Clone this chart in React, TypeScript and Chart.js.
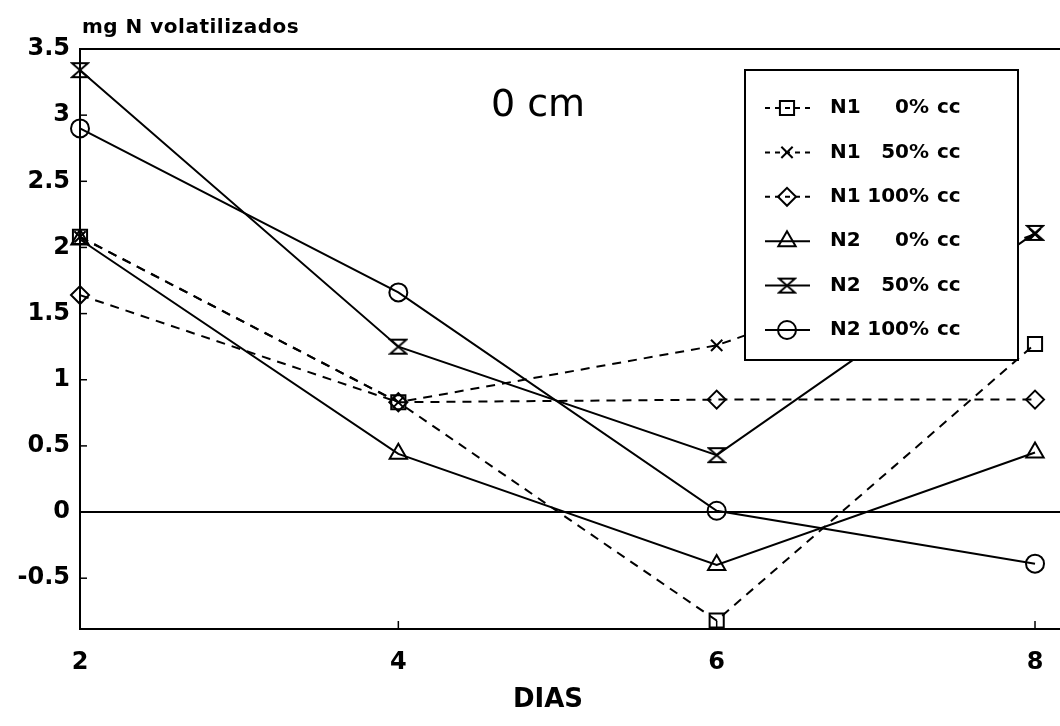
import React, { useEffect, useRef } from "react";
import { Chart, registerables } from "chart.js";
import { drawPoint } from "chart.js/helpers";

Chart.register(...registerables);

// ---- data ----
const days = [2, 4, 6, 8];
const n1_0 = [2.08, 0.83, -0.82, 1.27];
const n1_50 = [2.08, 0.83, 1.26, 2.1];
const n1_100 = [1.64, 0.83, 0.85, 0.85];
const n2_0 = [2.06, 0.44, -0.4, 0.45];
const n2_50 = [3.34, 1.25, 0.43, 2.11];
const n2_100 = [2.9, 1.66, 0.01, -0.39];
const seriesNames = ["N1 0% cc", "N1 50% cc", "N1 100% cc", "N2 0% cc", "N2 50% cc", "N2 100% cc"];
const xTicks = [2, 4, 6, 8];
const yTicks = [-0.5, 0, 0.5, 1, 1.5, 2, 2.5, 3, 3.5];
const yTitle = "mg N volatilizados";
const xTitle = "DIAS";
const chartTitle = "0 cm";

const FONT = '"DejaVu Sans", sans-serif';

function makeHourglass(): HTMLCanvasElement {
  const c = document.createElement("canvas");
  c.width = 20;
  c.height = 18;
  const g = c.getContext("2d")!;
  g.strokeStyle = "#000";
  g.lineWidth = 2;
  g.lineJoin = "miter";
  g.beginPath();
  g.moveTo(2, 2);
  g.lineTo(18, 2);
  g.lineTo(2, 16);
  g.lineTo(18, 16);
  g.closePath();
  g.stroke();
  return c;
}

export default function App() {
  const ref = useRef<HTMLCanvasElement | null>(null);

  useEffect(() => {
    const canvas = ref.current!;
    const hourglass = makeHourglass();
    const dash = [9, 7];
    const styles: any[] = [
      { pointStyle: "rect", pointRadius: 10, borderDash: dash },
      { pointStyle: "crossRot", pointRadius: 8, borderDash: dash },
      { pointStyle: "rectRot", pointRadius: 9, borderDash: dash },
      { pointStyle: "triangle", pointRadius: 10, borderDash: [] },
      { pointStyle: hourglass, pointRadius: 9, borderDash: [] },
      { pointStyle: "circle", pointRadius: 9, borderDash: [] },
    ];
    const allSeries = [n1_0, n1_50, n1_100, n2_0, n2_50, n2_100];

    const datasets = allSeries.map((arr, i) => ({
      label: seriesNames[i],
      data: days.map((d, j) => ({ x: d, y: arr[j] })),
      borderColor: "#000",
      borderWidth: 2,
      borderDash: styles[i].borderDash,
      pointStyle: styles[i].pointStyle,
      pointRadius: styles[i].pointRadius,
      pointBorderWidth: 2,
      pointBorderColor: "#000",
      pointBackgroundColor: "rgba(0,0,0,0)",
      fill: false,
      tension: 0,
      clip: false as any,
    }));

    const framePlugin = {
      id: "frame",
      beforeDatasetsDraw(chart: any) {
        const { ctx, chartArea } = chart;
        const xs = chart.scales.x;
        const ys = chart.scales.y;
        ctx.save();
        ctx.strokeStyle = "#000";
        ctx.lineWidth = 2;
        // top line
        ctx.beginPath();
        ctx.moveTo(chartArea.left, chartArea.top);
        ctx.lineTo(chartArea.right, chartArea.top);
        ctx.stroke();
        // inward y ticks
        ctx.lineWidth = 1.5;
        yTicks.forEach((v) => {
          const py = ys.getPixelForValue(v);
          ctx.beginPath();
          ctx.moveTo(chartArea.left, py);
          ctx.lineTo(chartArea.left + 7, py);
          ctx.stroke();
        });
        // inward x ticks
        xTicks.slice(1).forEach((v) => {
          const px = xs.getPixelForValue(v);
          ctx.beginPath();
          ctx.moveTo(px, chartArea.bottom);
          ctx.lineTo(px, chartArea.bottom - 8);
          ctx.stroke();
        });
        ctx.restore();
      },
      afterDraw(chart: any) {
        const { ctx, chartArea } = chart;
        ctx.save();
        ctx.fillStyle = "#000";
        // y title
        ctx.font = `bold 20px ${FONT}`;
        (ctx as any).letterSpacing = "0.5px";
        ctx.textAlign = "left";
        ctx.textBaseline = "alphabetic";
        ctx.fillText(yTitle, chartArea.left + 2, 33);
        (ctx as any).letterSpacing = "0px";
        // x title
        ctx.font = `bold 26px ${FONT}`;
        ctx.textAlign = "center";
        ctx.textBaseline = "middle";
        ctx.fillText(xTitle, 548, 700);
        // chart title
        ctx.font = `38px ${FONT}`;
        ctx.fillText(chartTitle, 538, 106);
        ctx.restore();
      },
    };

    const legendPlugin = {
      id: "boxLegend",
      afterDatasetsDraw(chart: any) {
        const { ctx } = chart;
        const bx = 745, by = 70, bw = 273, bh = 290;
        ctx.save();
        ctx.fillStyle = "#fff";
        ctx.fillRect(bx, by, bw, bh);
        ctx.strokeStyle = "#000";
        ctx.lineWidth = 2;
        ctx.strokeRect(bx, by, bw, bh);
        chart.data.datasets.forEach((ds: any, i: number) => {
          const y = 108 + i * 44.4;
          ctx.strokeStyle = "#000";
          ctx.lineWidth = 2;
          ctx.setLineDash(ds.borderDash && ds.borderDash.length ? [5, 5] : []);
          ctx.beginPath();
          ctx.moveTo(765, y);
          ctx.lineTo(810, y);
          ctx.stroke();
          ctx.setLineDash([]);
          ctx.fillStyle = "rgba(0,0,0,0)";
          drawPoint(ctx, { pointStyle: ds.pointStyle, radius: ds.pointRadius, borderWidth: 2, rotation: 0 } as any, 787, y);
          const parts = (ds.label as string).split(" ");
          ctx.fillStyle = "#000";
          ctx.font = `bold 20px ${FONT}`;
          ctx.textBaseline = "middle";
          ctx.textAlign = "left";
          ctx.fillText(parts[0], 830, y);
          ctx.textAlign = "right";
          ctx.fillText(parts[1], 929, y);
          ctx.textAlign = "left";
          ctx.fillText(parts[2], 937, y);
        });
        ctx.restore();
      },
    };

    const chart = new Chart(canvas, {
      type: "line",
      data: { datasets: datasets as any },
      options: {
        responsive: false,
        animation: false,
        devicePixelRatio: 1,
        layout: { autoPadding: false, padding: { top: 49, left: 0, right: 0, bottom: 0 } },
        plugins: { legend: { display: false }, tooltip: { enabled: false }, title: { display: false } },
        scales: {
          x: {
            type: "linear",
            min: 2,
            max: 8.157,
            afterBuildTicks: (s: any) => {
              s.ticks = xTicks.map((v) => ({ value: v }));
            },
            afterFit: (s: any) => {
              s.height = 97;
              s.paddingLeft = 0;
              s.paddingRight = 0;
            },
            grid: { display: true, drawTicks: false, color: "rgba(0,0,0,0)" },
            border: { display: true, color: "#000", width: 2 },
            ticks: {
              color: "#000",
              font: { family: FONT, size: 24, weight: "bold" },
              padding: 19,
              maxRotation: 0,
              autoSkip: false,
              callback: (v: any) => String(v),
            },
          },
          y: {
            type: "linear",
            min: -0.884,
            max: 3.5,
            afterBuildTicks: (s: any) => {
              s.ticks = yTicks.map((v) => ({ value: v }));
            },
            afterFit: (s: any) => {
              s.width = 80;
              s.paddingTop = 0;
              s.paddingBottom = 0;
            },
            grid: {
              drawTicks: false,
              lineWidth: 2,
              color: (c: any) => (c.tick && c.tick.value === 0 ? "#000" : "rgba(0,0,0,0)"),
            },
            border: { display: true, color: "#000", width: 2 },
            ticks: {
              color: "#000",
              font: { family: FONT, size: 24, weight: "bold" },
              padding: 10,
              autoSkip: false,
              callback: (v: any) => String(v),
            },
          },
        },
      },
      plugins: [framePlugin, legendPlugin],
    } as any);

    return () => chart.destroy();
  }, []);

  return (
    <canvas
      ref={ref}
      width={1060}
      height={726}
      style={{ position: "absolute", left: 0, top: 0, width: 1060, height: 726, display: "block" }}
    />
  );
}
